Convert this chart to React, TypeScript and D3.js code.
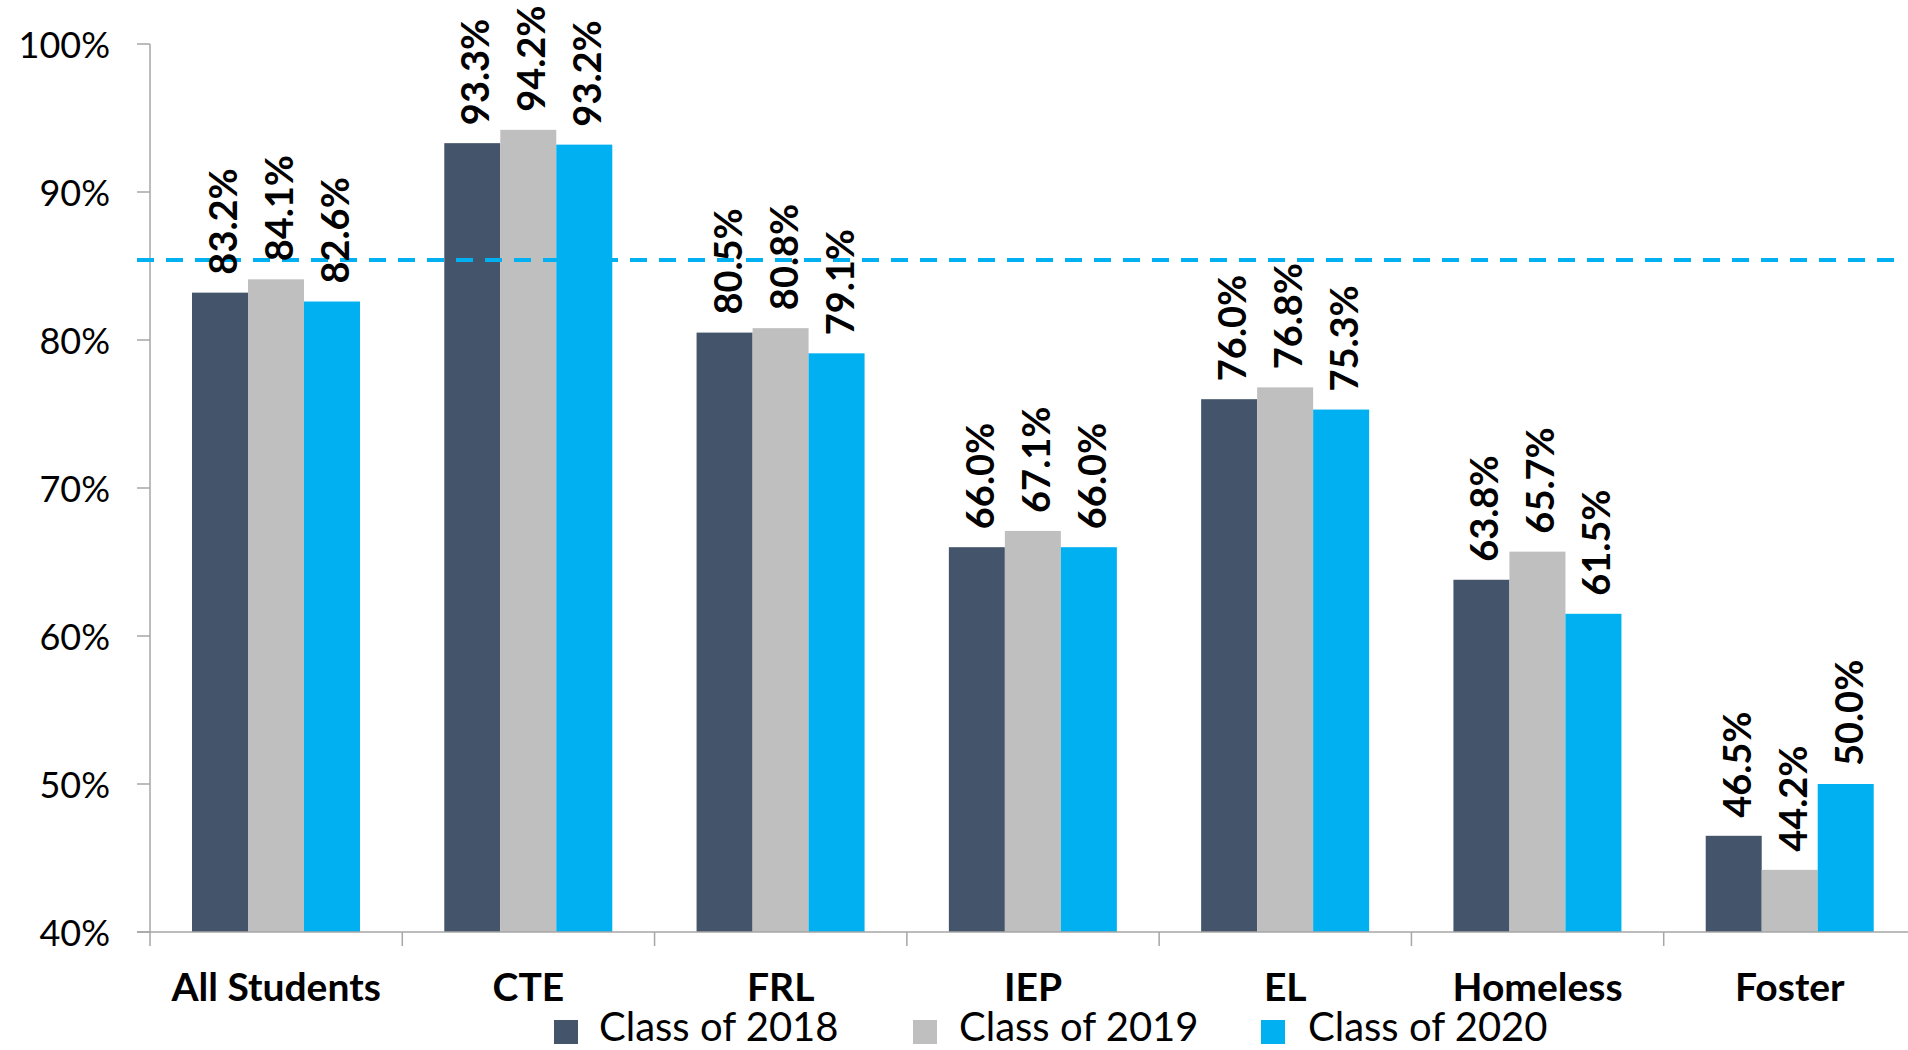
import React from "react";
import * as d3 from "d3";

const categories = ["All Students", "CTE", "FRL", "IEP", "EL", "Homeless", "Foster"];
const seriesNames = ["Class of 2018", "Class of 2019", "Class of 2020"];
const class2018 = [83.2, 93.3, 80.5, 66.0, 76.0, 63.8, 46.5];
const class2019 = [84.1, 94.2, 80.8, 67.1, 76.8, 65.7, 44.2];
const class2020 = [82.6, 93.2, 79.1, 66.0, 75.3, 61.5, 50.0];
const seriesValues = [class2018, class2019, class2020];
const seriesColors = ["#44546A", "#BFBFBF", "#00B0F0"];
const yTicks = [40, 50, 60, 70, 80, 90, 100];
const targetLine = 85.4;

const W = 1908;
const H = 1050;
const FONT = "Lato, 'Open Sans', sans-serif";

export default function App() {
  const x0 = d3.scaleBand<string>().domain(categories).range([150, 1916]).padding(0);
  const bw = x0.bandwidth();
  const x1 = d3
    .scaleBand<string>()
    .domain(seriesNames)
    .range([42, 42 + 168])
    .padding(0);
  const y = d3.scaleLinear().domain([40, 100]).range([932, 44]);

  const legendItems = [
    { sq: 554, tx: 599 },
    { sq: 913, tx: 959 },
    { sq: 1261, tx: 1308 },
  ];

  return (
    <div style={{ position: "absolute", left: 0, top: 0 }}>
      <svg width={W} height={H} style={{ display: "block", background: "#fff" }}>
        {/* bars */}
        {categories.map((c, ci) => (
          <g key={c} transform={`translate(${x0(c)},0)`}>
            {seriesNames.map((s, si) => {
              const v = seriesValues[si][ci];
              return (
                <rect
                  key={s}
                  x={x1(s)}
                  y={y(v)}
                  width={x1.bandwidth()}
                  height={y(40) - y(v)}
                  fill={seriesColors[si]}
                />
              );
            })}
          </g>
        ))}
        {/* axes */}
        <line x1={150} x2={150} y1={44} y2={932} stroke="#A6A6A6" strokeWidth={1.5} />
        {yTicks.map((t) => (
          <g key={t}>
            <line x1={137} x2={150} y1={y(t)} y2={y(t)} stroke="#A6A6A6" strokeWidth={1.5} />
            <text
              x={110}
              y={y(t)}
              textAnchor="end"
              dominantBaseline="central"
              fontFamily={FONT}
              fontSize={36}
              fill="#000"
            >
              {t}%
            </text>
          </g>
        ))}
        <line x1={137} x2={1908} y1={932} y2={932} stroke="#A6A6A6" strokeWidth={1.5} />
        {categories.map((c) => (
          <line
            key={c}
            x1={x0(c)!}
            x2={x0(c)!}
            y1={932}
            y2={946}
            stroke="#A6A6A6"
            strokeWidth={1.5}
          />
        ))}
        {/* target dashed line */}
        <line
          x1={137}
          x2={1900}
          y1={y(targetLine)}
          y2={y(targetLine)}
          stroke="#00B0F0"
          strokeWidth={4}
          strokeDasharray="17 12"
        />
        {/* data labels */}
        {categories.map((c, ci) =>
          seriesNames.map((s, si) => {
            const v = seriesValues[si][ci];
            const cx = x0(c)! + x1(s)! + x1.bandwidth() / 2 + 2;
            const cy = y(v) - 18;
            return (
              <text
                key={c + s}
                transform={`translate(${cx},${cy}) rotate(-90)`}
                textAnchor="start"
                dominantBaseline="central"
                fontFamily={FONT}
                fontWeight="bold"
                fontSize={38}
                fill="#000"
              >
                {v.toFixed(1)}%
              </text>
            );
          })
        )}
        {/* category labels */}
        {categories.map((c) => (
          <text
            key={c}
            x={x0(c)! + bw / 2}
            y={986}
            textAnchor="middle"
            dominantBaseline="central"
            fontFamily={FONT}
            fontWeight="bold"
            fontSize={39}
            fill="#000"
          >
            {c}
          </text>
        ))}
        {/* legend */}
        {seriesNames.map((s, i) => (
          <g key={s}>
            <rect x={legendItems[i].sq} y={1020} width={24} height={24} fill={seriesColors[i]} />
            <text
              x={legendItems[i].tx}
              y={1041}
              fontFamily={FONT}
              fontSize={40}
              fill="#000"
            >
              {s}
            </text>
          </g>
        ))}
      </svg>
    </div>
  );
}
